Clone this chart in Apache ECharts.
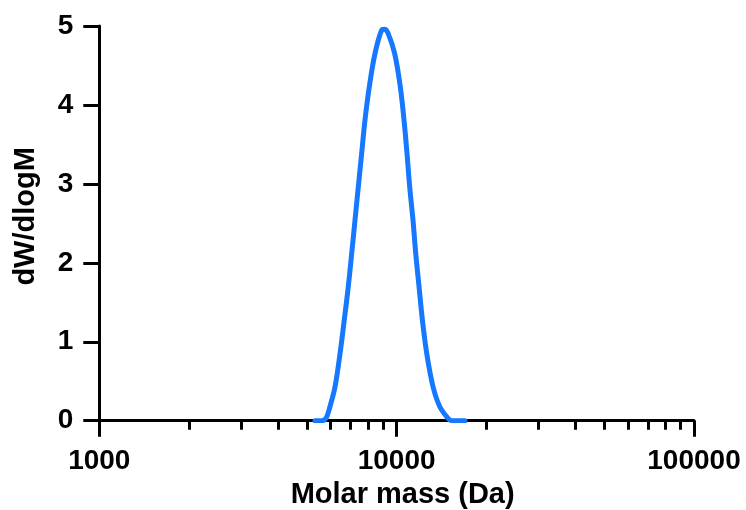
<!DOCTYPE html>
<html>
<head>
<meta charset="utf-8">
<script src="https://cdn.jsdelivr.net/npm/echarts@6/dist/echarts.min.js"></script>
<style>html,body{margin:0;padding:0;background:#fff}#c{width:746px;height:510px}</style>
</head>
<body>
<div id="c"></div>
<script>
var molarMass = [5313, 5600, 5786, 5968, 6205, 6450, 6667, 6877, 7061, 7243, 7430, 7628, 7826, 8091, 8455, 8908, 9103, 9353, 9849, 10287, 10586, 10834, 11063, 11350, 11590, 11891, 12202, 12625, 13254, 13958, 14882, 15300, 16980];
var dWdlogM   = [0, 0, 0.03, 0.18, 0.43, 0.85, 1.28, 1.70, 2.12, 2.54, 2.96, 3.39, 3.81, 4.23, 4.65, 4.95, 4.96, 4.91, 4.65, 4.23, 3.81, 3.39, 2.96, 2.54, 2.12, 1.70, 1.28, 0.85, 0.43, 0.18, 0.03, 0, 0];
var xMajorTicks = [1000, 10000, 100000];
var xMinorTicks = [2000, 3000, 4000, 5000, 6000, 7000, 8000, 9000, 20000, 30000, 40000, 50000, 60000, 70000, 80000, 90000];
var yTicks = [0, 1, 2, 3, 4, 5];

var font = '"Liberation Sans", Arial, Helvetica, sans-serif';
var chart = echarts.init(document.getElementById('c'), null, {renderer: 'canvas'});
var pts = molarMass.map(function (m, i) { return [m, dWdlogM[i]]; });

chart.setOption({
  animation: false,
  backgroundColor: '#fff',
  grid: {left: 99.3, right: 52, top: 26, bottom: 89.3, containLabel: false, outerBoundsMode: 'none'},
  xAxis: [{
    type: 'log', logBase: 10, min: 1000, max: 100000, position: 'bottom',
    name: 'Molar mass (Da)', nameLocation: 'middle', nameGap: 58,
    nameTextStyle: {fontFamily: font, fontWeight: 'bold', fontSize: 29, color: '#000', padding: [0, 0, 0, 12]},
    axisLine: {show: true, lineStyle: {color: '#000', width: 3}},
    axisTick: {show: true, length: 16, lineStyle: {color: '#000', width: 3}, customValues: xMajorTicks},
    axisLabel: {show: true, margin: 27, fontFamily: font, fontWeight: 'bold', fontSize: 28, color: '#000',
      customValues: xMajorTicks, formatter: function (v) { return String(Math.round(v)); }},
    splitLine: {show: false}
  }, {
    type: 'log', logBase: 10, min: 1000, max: 100000, position: 'bottom', gridIndex: 0,
    axisLine: {show: false},
    axisTick: {show: true, length: 9, lineStyle: {color: '#000', width: 3}, customValues: xMinorTicks},
    axisLabel: {show: false},
    splitLine: {show: false}
  }],
  yAxis: {
    type: 'value', min: 0, max: 5, interval: 1,
    name: 'dW/dlogM', nameLocation: 'middle', nameGap: 59, nameRotate: 90,
    nameTextStyle: {fontFamily: font, fontWeight: 'bold', fontSize: 29, color: '#000', padding: [0, 0, 0, 14]},
    axisLine: {show: true, lineStyle: {color: '#000', width: 3}},
    axisTick: {show: true, length: 16, lineStyle: {color: '#000', width: 3}},
    axisLabel: {margin: 26, fontFamily: font, fontWeight: 'bold', fontSize: 28, color: '#000', customValues: yTicks},
    splitLine: {show: false}
  },
  series: [{
    type: 'line', xAxisIndex: 0, data: pts, smooth: 0.35,
    showSymbol: false, symbol: 'none',
    lineStyle: {color: '#1677FF', width: 5, cap: 'round', join: 'round'}
  }]
});
</script>
</body>
</html>
